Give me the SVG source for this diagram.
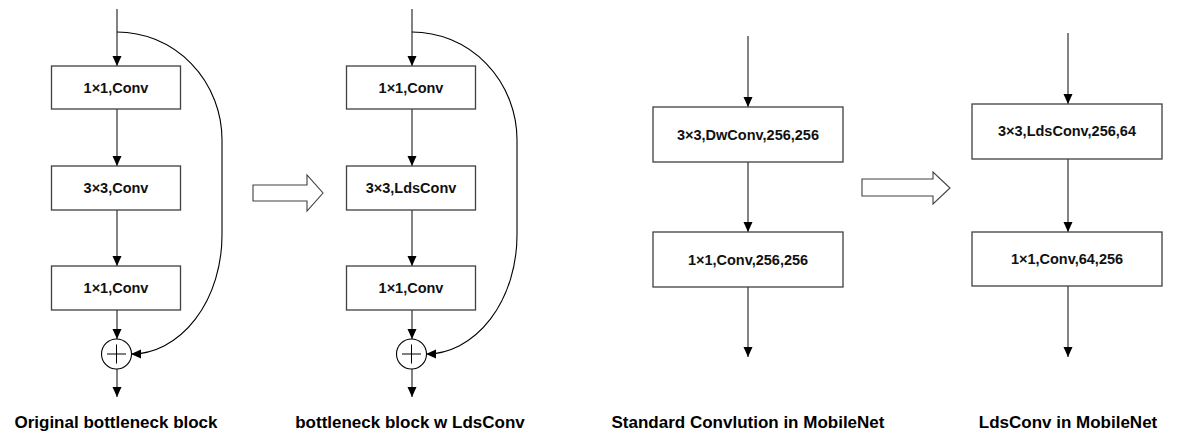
<svg xmlns="http://www.w3.org/2000/svg" width="1180" height="435" viewBox="0 0 1180 435">
<defs>
<style>
.box{fill:#fff;stroke:#404040;stroke-width:1.3}
.ln{stroke:#404040;stroke-width:1.3;fill:none}
.cv{stroke:#000;stroke-width:1.1;fill:none}
.t{font-family:"Liberation Sans",Arial,sans-serif;font-weight:bold;font-size:14.5px;fill:#111;text-anchor:middle;dominant-baseline:central}
.cap{font-family:"Liberation Sans",Arial,sans-serif;font-weight:bold;font-size:17px;fill:#000;text-anchor:middle}
.hol{fill:#fff;stroke:#404040;stroke-width:1.1}
</style>
<marker id="ah" markerUnits="userSpaceOnUse" markerWidth="10" markerHeight="10" viewBox="0 0 10 9" refX="10" refY="4.5" orient="auto">
<path d="M0,0 L10,4.5 L0,9 z" fill="#000"/>
</marker>
</defs>
<g id="connectors">
<line class="ln" x1="117" y1="9" x2="117" y2="66" marker-end="url(#ah)"/>
<line class="ln" x1="117" y1="109" x2="117" y2="166" marker-end="url(#ah)"/>
<line class="ln" x1="117" y1="210" x2="117" y2="266" marker-end="url(#ah)"/>
<line class="ln" x1="117" y1="310" x2="117" y2="339" marker-end="url(#ah)"/>
<line class="ln" x1="117" y1="369" x2="117" y2="397" marker-end="url(#ah)"/>
<path class="cv" d="M117,32 A105,108 0 0 1 222,140 L222,235 A91,119 0 0 1 131,354" marker-end="url(#ah)"/>
<line class="ln" x1="412" y1="9" x2="412" y2="66" marker-end="url(#ah)"/>
<line class="ln" x1="412" y1="109" x2="412" y2="166" marker-end="url(#ah)"/>
<line class="ln" x1="412" y1="210" x2="412" y2="266" marker-end="url(#ah)"/>
<line class="ln" x1="412" y1="310" x2="412" y2="339" marker-end="url(#ah)"/>
<line class="ln" x1="412" y1="369" x2="412" y2="397" marker-end="url(#ah)"/>
<path class="cv" d="M412,32 A105,108 0 0 1 517,140 L517,235 A91,119 0 0 1 426,354" marker-end="url(#ah)"/>
<line class="ln" x1="748" y1="36" x2="748" y2="107" marker-end="url(#ah)"/>
<line class="ln" x1="748" y1="162" x2="748" y2="232" marker-end="url(#ah)"/>
<line class="ln" x1="748" y1="287" x2="748" y2="357" marker-end="url(#ah)"/>
<line class="ln" x1="1068" y1="33" x2="1068" y2="104" marker-end="url(#ah)"/>
<line class="ln" x1="1068" y1="159" x2="1068" y2="232" marker-end="url(#ah)"/>
<line class="ln" x1="1068" y1="286" x2="1068" y2="357" marker-end="url(#ah)"/>
</g>
<g id="p1-conv1"><rect class="box" x="51.5" y="66" width="129" height="43"/><text class="t" x="116" y="88">1×1,Conv</text></g>
<g id="p1-conv2"><rect class="box" x="51.5" y="166" width="129" height="44"/><text class="t" x="116" y="188">3×3,Conv</text></g>
<g id="p1-conv3"><rect class="box" x="51.5" y="266" width="129" height="44"/><text class="t" x="116" y="288">1×1,Conv</text></g>
<g id="p1-add"><circle cx="116.5" cy="354" r="15" fill="#fff" stroke="#000" stroke-width="1.1"/><path d="M107,354 H126 M116.5,344.5 V363.5" stroke="#000" stroke-width="1"/></g>
<g id="p2-conv1"><rect class="box" x="346.5" y="66" width="129" height="43"/><text class="t" x="411" y="88">1×1,Conv</text></g>
<g id="p2-conv2"><rect class="box" x="346.5" y="166" width="129" height="44"/><text class="t" x="411" y="188">3×3,LdsConv</text></g>
<g id="p2-conv3"><rect class="box" x="346.5" y="266" width="129" height="44"/><text class="t" x="411" y="288">1×1,Conv</text></g>
<g id="p2-add"><circle cx="411.5" cy="354" r="15" fill="#fff" stroke="#000" stroke-width="1.1"/><path d="M402,354 H421 M411.5,344.5 V363.5" stroke="#000" stroke-width="1"/></g>
<g id="p3-dw"><rect class="box" x="653" y="107" width="190" height="55"/><text class="t" x="748" y="135">3×3,DwConv,256,256</text></g>
<g id="p3-pw"><rect class="box" x="653" y="232" width="190" height="55"/><text class="t" x="748" y="260">1×1,Conv,256,256</text></g>
<g id="p4-lds"><rect class="box" x="972" y="104" width="190" height="55"/><text class="t" x="1067" y="131">3×3,LdsConv,256,64</text></g>
<g id="p4-pw"><rect class="box" x="972" y="232" width="190" height="54"/><text class="t" x="1067" y="259">1×1,Conv,64,256</text></g>
<g id="hollow-arrow-1"><path class="hol" d="M253,185 H307 V175 L323,193 L307,211 V201 H253 Z"/></g>
<g id="hollow-arrow-2"><path class="hol" d="M862,179 H933 V172 L950,188 L933,204 V196 H862 Z"/></g>
<g id="captions">
<text class="cap" x="116" y="428">Original bottleneck block</text>
<text class="cap" x="410" y="428">bottleneck block w LdsConv</text>
<text class="cap" x="748" y="428">Standard Convlution in MobileNet</text>
<text class="cap" x="1068" y="428">LdsConv in MobileNet</text>
</g>
</svg>
